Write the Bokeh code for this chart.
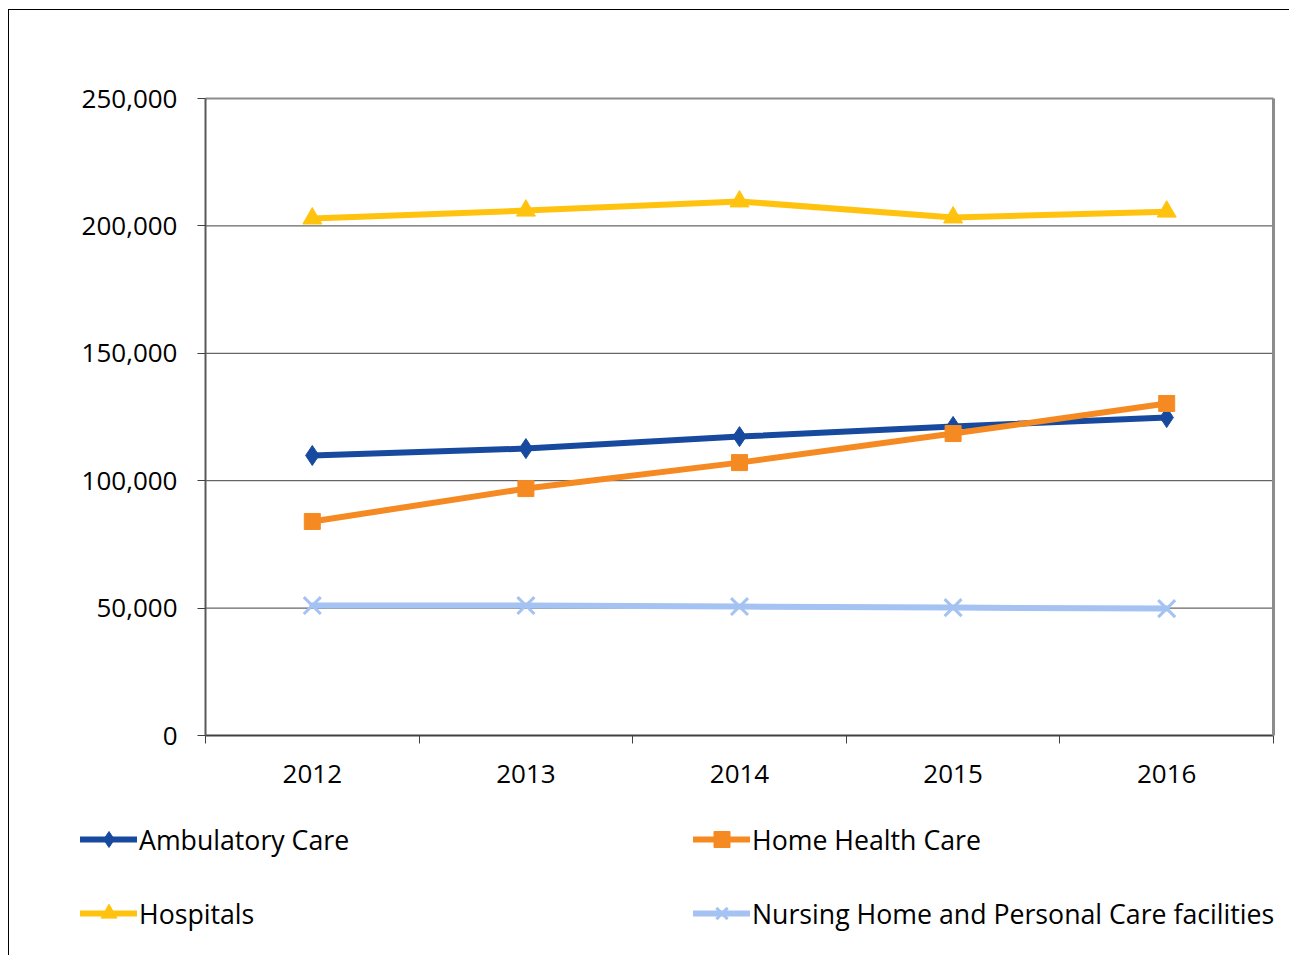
from bokeh.plotting import figure
from bokeh.models import (Range1d, FixedTicker, NumeralTickFormatter, Legend, LegendItem,
                          ColumnDataSource, LinearAxis)
from bokeh.embed import file_html
from bokeh.resources import INLINE

# ---- data ----
years = ["2012", "2013", "2014", "2015", "2016"]
ambulatory = [109900, 112600, 117300, 121300, 124800]
home_health = [84000, 96900, 107100, 118500, 130300]
hospitals = [202900, 206000, 209600, 203300, 205600]
nursing = [51000, 51000, 50600, 50200, 49800]
y_ticks = [0, 50000, 100000, 150000, 200000, 250000]

series_names = ["Ambulatory Care", "Home Health Care", "Hospitals",
                "Nursing Home and Personal Care facilities"]
series_values = [ambulatory, home_health, hospitals, nursing]
colors = ["#174A9E", "#F58A23", "#FFC30F", "#A4C2F2"]
markers = ["diamond", "square", "triangle", "x"]
marker_sizes = [20, 16, 19, 24]

FONT = "Open Sans"
FS = "26px"
LEG_FS = "26.7px"

# ---- layout (canvas pixels) ----
W, H = 1281, 946
FL, FT, FW, FH = 196, 88, 1068, 637      # plot area inside the canvas
n = len(years)
y_max = y_ticks[-1]
xu = n / FW
yu = y_max / FH

x_pos = [i + 0.5 for i in range(n)]

p = figure(width=W, height=H, output_backend="svg", toolbar_location=None,
           x_range=Range1d(-FL * xu, (W - FL) * xu),
           y_range=Range1d(-(H - FT - FH) * yu, y_max + FT * yu),
           x_axis_location=None, y_axis_location=None,
           min_border_left=0, min_border_right=0, min_border_top=0, min_border_bottom=0)
p.margin = (9, 0, 0, 8)
p.styles = {"border-left": "1px solid #000000", "border-top": "1px solid #000000"}
p.background_fill_color = "white"
p.border_fill_color = "white"
p.outline_line_color = None
p.grid.visible = False

# horizontal gridlines
p.segment(x0=[0] * (len(y_ticks) - 2), x1=[n] * (len(y_ticks) - 2),
          y0=y_ticks[1:-1], y1=y_ticks[1:-1], line_color="#404040", line_width=1)

# x axis: labels at centers, tick marks at category boundaries
xaxis = LinearAxis(fixed_location=0, bounds=(0, n),
                   ticker=FixedTicker(ticks=x_pos, minor_ticks=list(range(n + 1))),
                   major_label_overrides={xp: y for xp, y in zip(x_pos, years)},
                   major_tick_out=0, major_tick_in=0,
                   minor_tick_out=8, minor_tick_in=0,
                   minor_tick_line_color="#404040", minor_tick_line_width=1,
                   axis_line_color="#404040", axis_line_width=2,
                   major_label_standoff=21, major_label_text_font=FONT,
                   major_label_text_font_size=FS, major_label_text_color="#000000")
p.add_layout(xaxis, "below")

# y axis
yaxis = LinearAxis(fixed_location=0, bounds=(0, y_max),
                   ticker=FixedTicker(ticks=y_ticks, minor_ticks=[]),
                   formatter=NumeralTickFormatter(format="0,0"),
                   major_tick_out=8, major_tick_in=0, major_tick_line_color="#404040",
                   axis_line_color="#595959", axis_line_width=2,
                   major_label_standoff=20, major_label_text_font=FONT,
                   major_label_text_font_size=FS, major_label_text_color="#000000")
p.add_layout(yaxis, "left")

# plot-area border (top and right, gray)
top_axis = LinearAxis(fixed_location=y_max, bounds=(0, n),
                      ticker=FixedTicker(ticks=[], minor_ticks=[]),
                      major_tick_out=0, minor_tick_out=0,
                      axis_line_color="#8C8C8C", axis_line_width=2)
p.add_layout(top_axis, "above")
right_axis = LinearAxis(fixed_location=n, bounds=(0, y_max),
                        ticker=FixedTicker(ticks=[], minor_ticks=[]),
                        major_tick_out=0, minor_tick_out=0,
                        axis_line_color="#8C8C8C", axis_line_width=3)
p.add_layout(right_axis, "right")

items = []
for name, vals, col, mk, ms in zip(series_names, series_values, colors, markers, marker_sizes):
    src = ColumnDataSource(dict(x=x_pos, y=vals))
    r1 = p.line("x", "y", source=src, line_color=col, line_width=6,
                line_join="round", line_cap="round")
    if mk == "x":
        r2 = p.scatter("x", "y", source=src, marker=mk, size=ms, line_color=col,
                       line_width=3)
    else:
        r2 = p.scatter("x", "y", source=src, marker=mk, size=ms, fill_color=col,
                       line_color=col, line_width=1)
    items.append(LegendItem(label=name, renderers=[r1, r2]))

legend = Legend(items=items, orientation="horizontal", ncols=2,
                location=(71, 23),
                glyph_width=57, glyph_height=40, label_height=40, label_width=520,
                label_standoff=2, spacing=34, padding=0, margin=0,
                border_line_color=None, background_fill_alpha=0,
                label_text_font=FONT, label_text_font_size=LEG_FS,
                label_text_color="#000000")
p.add_layout(legend)

open("out.html", "w").write(file_html(p, INLINE))
